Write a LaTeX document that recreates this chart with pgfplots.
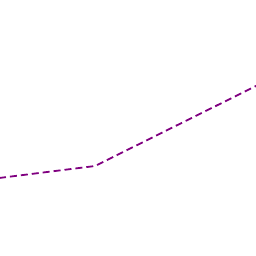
\documentclass[border=0pt]{standalone}
\usepackage{pgfplots}
\pgfplotsset{compat=1.18}
\definecolor{lc}{RGB}{128,0,128}
\begin{document}
\begin{tikzpicture}
\begin{axis}[
  width=256pt, height=256pt, scale only axis,
  xmin=0, xmax=256, ymin=0, ymax=256, y dir=reverse,
  hide axis, clip=true,
]
\addplot[draw=white, line width=0pt, forget plot] coordinates {(0,0) (256,256)};
\addplot[lc, line width=1.8pt, dash pattern=on 7pt off 4pt, mark=none] coordinates {
(-1,178) (95,166) (257,85.5)
};
\end{axis}
\useasboundingbox (current axis.south west) rectangle (current axis.north east);
\end{tikzpicture}
\end{document}
